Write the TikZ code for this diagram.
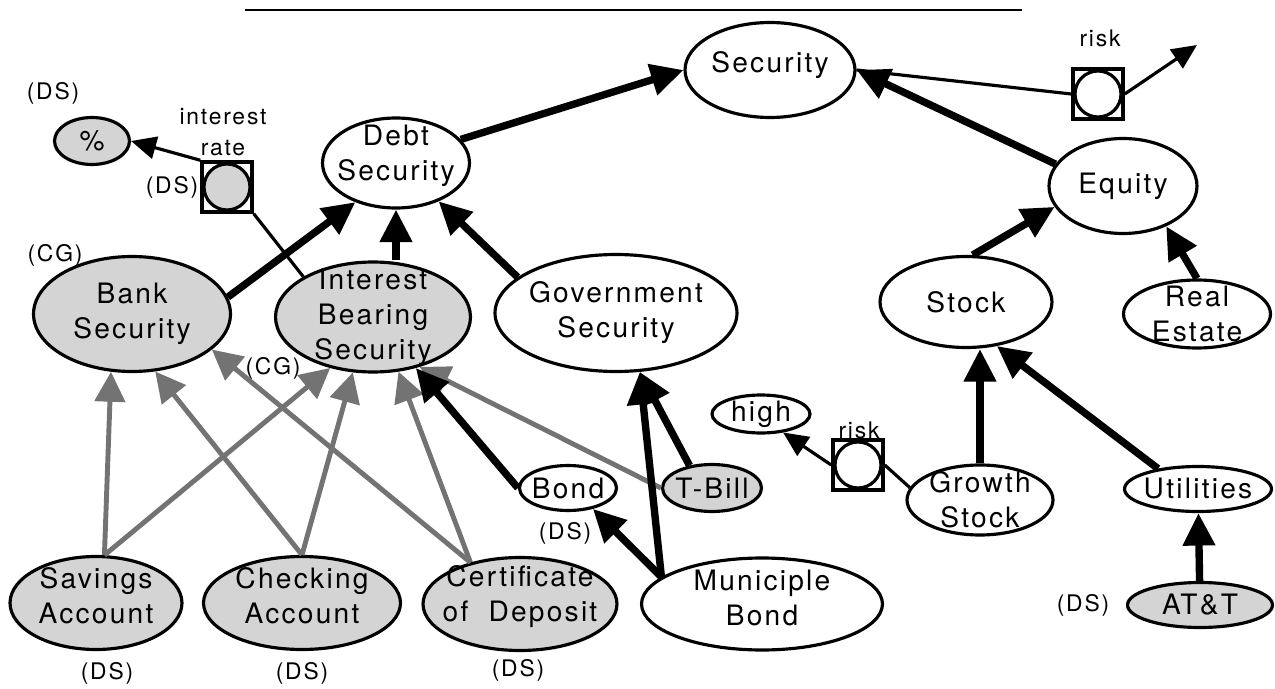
\documentclass[tikz,border=0pt]{standalone}
\usepackage{fontspec}
\setmainfont{TeX Gyre Heros}[LetterSpace=8]
\usetikzlibrary{shapes.geometric,arrows.meta}

\begin{document}
\begin{tikzpicture}[x=0.02cm,y=-0.02cm,
  txt/.style={align=center,font=\fontsize{16}{19.9}\selectfont,inner sep=0pt},
  tag/.style={align=center,font=\fontsize{13}{17.6}\selectfont,inner sep=0pt},
  base/.style={ellipse,draw,line width=1.8pt,inner sep=0pt},
  cpt/.style={base,label={[txt]center:#1}},
  cptu/.style 2 args={base,label={[txt,yshift=#2]center:#1}},
  shd/.style={cpt={#1},fill=black!17},
  shdu/.style 2 args={cptu={#1}{#2},fill=black!17},
  rolebox/.style={rectangle,draw,line width=2pt,minimum size=1cm,inner sep=0pt,fill=white,
    path picture={\draw[line width=1.8pt,fill=#1] (path picture bounding box.center) circle[radius=0.46cm];}},
  rolebox/.default=white,
  isa/.style={line width=4.2pt,-{Triangle[length=0.65cm,width=0.62cm]}},
  kindof/.style={line width=2.8pt,draw=black!55,-{Triangle[length=0.6cm,width=0.6cm]}},
  link/.style={line width=1.8pt},
  linkarrow/.style={link,-{Triangle[length=0.5cm,width=0.45cm]}}]
\useasboundingbox (0,0) rectangle (1275,689);
\draw[line width=1.6pt] (245,10) -- (1022,10);

% concepts
\node[cptu={Security}{0.1cm},minimum width=3.4cm,minimum height=1.9cm] (sec) at (770,70) {};
\node[cpt=Equity,minimum width=2.96cm,minimum height=1.9cm] (eq) at (1123,186) {};
\node[cptu={Debt\\Security}{0.14cm},minimum width=2.94cm,minimum height=1.8cm] (debt) at (396,163) {};
\node[shd=\%,minimum width=1.5cm,minimum height=0.94cm] (pct) at (92,141) {};
\node[shd={Bank\\Security},minimum width=3.94cm,minimum height=2.3cm] (bank) at (132,314) {};
\node[shd={Interest\\Bearing\\Security},minimum width=3.9cm,minimum height=2.2cm] (ibs) at (373,317) {};
\node[cpt={Government\\Security},minimum width=4.84cm,minimum height=2.34cm] (gov) at (616,313) {};
\node[cpt=Stock,minimum width=3.44cm,minimum height=1.82cm] (stock) at (966,302) {};
\node[cpt={Real\\Estate},minimum width=2.94cm,minimum height=1.36cm] (re) at (1197,314) {};
\node[cpt=high,minimum width=1.96cm,minimum height=0.76cm] (high) at (761,414) {};
\node[cpt={Growth\\Stock},minimum width=2.92cm,minimum height=1.4cm] (growth) at (980,500) {};
\node[cpt=Utilities,minimum width=2.94cm,minimum height=0.9cm] (util) at (1198,489) {};
\node[shd=AT\&T,minimum width=2.9cm,minimum height=0.9cm] (att) at (1200,605) {};
\node[cpt=Bond,minimum width=1.94cm,minimum height=0.9cm] (bond) at (568,488) {};
\node[shd=T-Bill,minimum width=1.98cm,minimum height=0.94cm] (tbill) at (712,488) {};
\node[shdu={Savings\\Account}{0.15cm},minimum width=3.44cm,minimum height=1.86cm] (sav) at (96,603) {};
\node[shdu={Checking\\Account}{0.15cm},minimum width=3.94cm,minimum height=1.86cm] (chk) at (302,603) {};
\node[shdu={Certificate\\of~ Deposit}{0.15cm},minimum width=3.88cm,minimum height=1.86cm] (cert) at (520,604) {};
\node[cptu={Municiple\\Bond}{0.12cm},minimum width=4.82cm,minimum height=1.84cm] (muni) at (762,604) {};

% roles
\node[rolebox=black!17] (ratesq) at (227,187) {};
\node[rolebox] (rsk1) at (1098,94) {};
\node[rolebox] (rsk2) at (858,465) {};
\coordinate (riskend) at (1197,45);

% tags
\node[tag] (dspct) at (53,93) {(DS)};
\node[tag] (ratelbl) at (223,132) {interest\\rate};
\node[tag] (dsrate) at (172,187) {(DS)};
\node[tag] (cgbank) at (55,255) {(CG)};
\node[tag] (cgibs) at (273,368) {(CG)};
\node[tag] (dssav) at (107,673) {(DS)};
\node[tag] (dschk) at (302,673) {(DS)};
\node[tag] (dscert) at (518,670) {(DS)};
\node[tag] (dsbond) at (565,533) {(DS)};
\node[tag] (dsatt) at (1083,605) {(DS)};
\node[tag] (risklbl) at (1100,38) {risk};
\node[tag] (risklbl2) at (859,430) {risk};

% gray links
\draw[kindof] (sav.80) -- (bank.250);
\draw[kindof] (sav.80) -- (ibs.230);
\draw[kindof] (chk.north) -- (bank.292);
\draw[kindof] (chk.north) -- (ibs.250);
\draw[kindof] (cert.140) -- (bank.336);
\draw[kindof] (cert.140) -- (ibs.295);
\draw[kindof] (tbill.west) -- (ibs.313);

% black links
\draw[isa] (debt.20) -- (sec.west);
\draw[isa] (eq.162) -- (sec.east);
\draw[link] (rsk1.west) -- (sec.east);
\draw[linkarrow] (rsk1.east) -- (riskend);
\draw[isa] (bank.10) -- (debt.224);
\draw[isa] (ibs.north -| debt.south) -- (debt.south);
\draw[isa] (gov.160) -- (debt.318);
\draw[linkarrow] (ratesq.north west) -- (pct.east);
\draw[link] (ratesq.south east) -- (ibs.150);
\draw[isa] (stock.82) -- (eq.197);
\draw[isa] (re.north) -- (eq.317);
\draw[isa] (growth.north) -- (growth.north |- stock.south);
\draw[isa] (util.153) -- (stock.305);
\draw[isa] (att) -- (util);
\draw[link] (rsk2.east) -- (growth.170);
\draw[linkarrow] (rsk2.west) -- (high.320);
\draw[isa] (bond.west) -- (ibs.310);
\draw[isa] (tbill.135) -- (gov.292);
\draw[isa] (muni.165) -- (gov.292);
\draw[isa] (muni.165) -- (bond.320);
\end{tikzpicture}
\end{document}
